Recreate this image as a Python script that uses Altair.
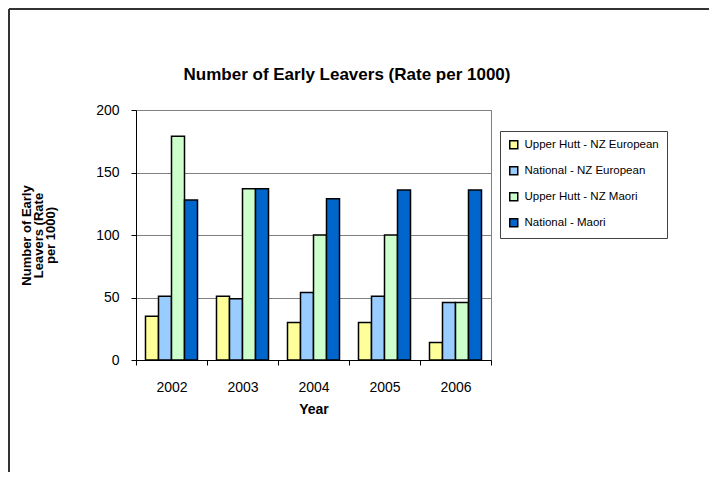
import altair as alt
import pandas as pd

years = ["2002", "2003", "2004", "2005", "2006"]
series = [
    "Upper Hutt - NZ European",
    "National - NZ European",
    "Upper Hutt - NZ Maori",
    "National - Maori",
]
uh_euro = [35, 51, 30, 30, 14]
nat_euro = [51, 49, 54, 51, 46]
uh_maori = [179, 137, 100, 100, 46]
nat_maori = [128, 137, 129, 136, 136]
colors = ["#FFFF99", "#99CCFF", "#CCFFCC", "#0066CC"]
chart_title = "Number of Early Leavers (Rate per 1000)"

rows = []
for s, vals in zip(series, [uh_euro, nat_euro, uh_maori, nat_maori]):
    for y, v in zip(years, vals):
        rows.append({"Year": y, "Series": s, "Value": v})
df = pd.DataFrame(rows)
one = pd.DataFrame({"t": [chart_title]})

FONT = "Liberation Sans"

bars = alt.Chart(df).mark_bar(stroke="black", strokeWidth=1.5).encode(
    x=alt.X(
        "Year:N",
        sort=years,
        scale=alt.Scale(paddingInner=0, paddingOuter=0),
        axis=alt.Axis(
            title="Year",
            labelAngle=0,
            tickBand="extent",
            domainColor="black",
            tickColor="black",
            tickSize=5,
            labelFontSize=14,
            labelPadding=15,
            titleFontSize=14,
            titleFontWeight="bold",
            titlePadding=8,
            grid=False,
        ),
    ),
    xOffset=alt.XOffset(
        "Series:N", sort=series, scale=alt.Scale(paddingInner=0, paddingOuter=0.73)
    ),
    y=alt.Y(
        "Value:Q",
        scale=alt.Scale(domain=[0, 200]),
        axis=alt.Axis(
            values=[0, 50, 100, 150, 200],
            title=["Number of Early", "Leavers (Rate", "per 1000)"],
            titleFontSize=13,
            titleFontWeight="bold",
            titleX=-110,
            titleY=125,
            titleAngle=270,
            titleAlign="center",
            titleBaseline="middle",
            titleLineHeight=12,
            domainColor="black",
            tickColor="black",
            tickSize=5,
            labelFontSize=14,
            labelPadding=12,
            gridColor="#808080",
            gridWidth=1,
        ),
    ),
    color=alt.Color(
        "Series:N",
        sort=series,
        scale=alt.Scale(domain=series, range=colors),
        legend=alt.Legend(
            title=None,
            orient="none",
            legendX=364,
            legendY=21,
            strokeColor="#444444",
            padding=8,
            fillColor="white",
            labelFontSize=11.5,
            symbolType="square",
            symbolSize=64,
            symbolStrokeColor="black",
            symbolStrokeWidth=1.5,
            symbolOpacity=1,
            rowPadding=11,
            labelOffset=5,
        ),
    ),
)

title_text = alt.Chart(one).mark_text(
    fontSize=17,
    fontWeight="bold",
    font=FONT,
    color="black",
    align="center",
    baseline="middle",
).encode(text="t:N", x=alt.value(211), y=alt.value(-35))

top_border = alt.Chart(one).mark_rule(color="#333333", strokeWidth=2).encode(
    x=alt.value(-127), x2=alt.value(700), y=alt.value(-101)
)
left_border = alt.Chart(one).mark_rule(color="#333333", strokeWidth=2).encode(
    x=alt.value(-127), y=alt.value(-101), y2=alt.value(500)
)

chart = (
    alt.layer(bars, title_text, top_border, left_border)
    .properties(
        width=355,
        height=250,
        autosize=alt.AutoSizeParams(type="none"),
        padding={"left": 128, "top": 102, "right": 218, "bottom": 112},
    )
    .configure(font=FONT)
    .configure_view(stroke="#808080", strokeWidth=1)
    .configure_axis(labelColor="black", titleColor="black", labelFont=FONT, titleFont=FONT)
    .configure_legend(labelColor="black", labelFont=FONT)
)

chart.save("out.html", embed_options={"renderer": "svg", "actions": False})
